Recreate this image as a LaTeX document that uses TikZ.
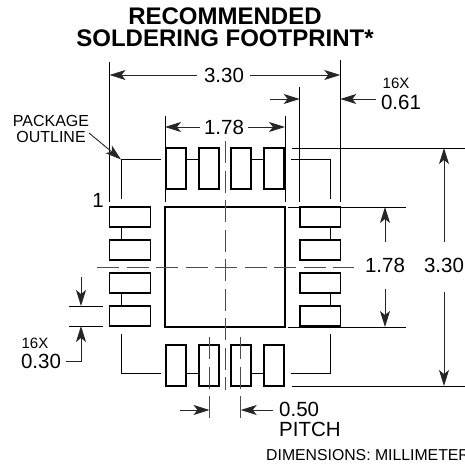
\documentclass[tikz,border=0pt]{standalone}
\usepackage{fontspec}
\setmainfont{Liberation Sans}
\usepackage{tikz}
\usetikzlibrary{arrows.meta,positioning}
\tikzset{
  padbox/.style={draw=black,line width=1.3pt,fill=white},
  thinline/.style={draw=black,line width=0.9pt},
  dimline/.style={draw=black!85,line width=0.9pt,-{Stealth[length=16pt,width=10pt,inset=4pt]}},
  centerline/.style={draw=black!70,line width=1pt,dash pattern=on 22pt off 7.5pt},
  numlabel/.style={inner sep=0pt,font=\fontsize{20.5}{20.5}\selectfont},
  smalllabel/.style={inner sep=0pt,font=\fontsize{15}{15}\selectfont}
}
\begin{document}
\begin{tikzpicture}[x=1pt,y=-1pt]
\useasboundingbox (0,0) rectangle (465,465);

% Title
\node[inner sep=0pt,align=center,font=\fontsize{24}{22}\selectfont\bfseries] (title) at (225,27) {RECOMMENDED\\SOLDERING FOOTPRINT*};

% Package outline with pad links
\draw[thinline] (161,159.5) -- (121,159.5) -- (121,199);
\draw[thinline] (291,159.5) -- (330,159.5) -- (330,199);
\draw[thinline] (161,373.7) -- (121,373.7) -- (121,334);
\draw[thinline] (291,373.7) -- (330,373.7) -- (330,334);
\foreach \x in {186,251} {
  \draw[thinline] (\x,159.5) -- (\x+13,159.5);
  \draw[thinline] (\x,373.7) -- (\x+13,373.7);
}
\foreach \y in {227,293} {
  \draw[thinline] (121,\y) -- (121,\y+13);
  \draw[thinline] (330,\y) -- (330,\y+13);
}

% Pads
\foreach \x in {166,199,231,264} {
  \draw[padbox] (\x,148) rectangle (\x+20,189);
  \draw[padbox] (\x,345) rectangle (\x+20,386);
}
\foreach \y in {207,240,273,306} {
  \draw[padbox] (109.5,\y) rectangle (150.5,\y+20);
  \draw[padbox] (300,\y) rectangle (340.5,\y+20);
}
\draw[padbox] (165,207) rectangle (285,327);

% Center lines
\draw[centerline] (97,267) -- (354,267);
\draw[centerline] (225,141) -- (225,390);
\foreach \x in {209.5,240.7}
  \draw[centerline] (\x,337) -- (\x,421);

% Extension lines
\foreach \x/\ytop in {109.5/62,340.3/60,165/116,285/116,299.7/87}
  \draw[thinline] (\x,\ytop) -- (\x,202);
\foreach \y/\xa/\xb in {148/292/465,386/292/465,207/288/406,327/288/406,306/69/103,326/69/103}
  \draw[thinline] (\xa,\y) -- (\xb,\y);

% Width 3.30
\node[numlabel] (wouter) at (224,75) {3.30};
\draw[dimline] (197,75) -- (109.5,75);
\draw[dimline] (250,75) -- (340.3,75);

% Width 1.78
\node[numlabel] (winner) at (224,127) {1.78};
\draw[dimline] (200,127) -- (165,127);
\draw[dimline] (248,127) -- (285,127);

% Pad length 0.61
\node[smalllabel] (lencount) at (396,83) {16X};
\node[numlabel] (lenval) at (401,102) {0.61};
\draw[dimline] (270,99) -- (299.7,99);
\draw[dimline] (376,99) -- (340.3,99);

% Height 1.78 and 3.30
\node[numlabel] (hinner) at (385,265) {1.78};
\draw[dimline] (385,242) -- (385,207);
\draw[dimline] (385,289) -- (385,327);
\node[numlabel] (houter) at (444,265) {3.30};
\draw[dimline] (444,242) -- (444,148);
\draw[dimline] (444,292) -- (444,386);

% Pad width 0.30
\node[smalllabel] (widcount) at (35,343) {16X};
\node[numlabel] (widval) at (41,361) {0.30};
\draw[dimline] (81,277) -- (81,306);
\draw[dimline] (66,361) -- (81,361) -- (81,326);

% Pitch
\node[numlabel,anchor=west] (pitchval) at (279,409) {0.50};
\node[numlabel,anchor=west] (pitchname) at (279,429) {PITCH};
\draw[dimline] (180,410) -- (209.5,410);
\draw[dimline] (273,410) -- (240.7,410);

% Other labels
\node[numlabel] (pinone) at (98,200) {1};
\node[inner sep=0pt,align=center,font=\fontsize{16}{16}\selectfont] (outline) at (51,128.5) {PACKAGE\\OUTLINE};
\draw[dimline] (89,133) -- (121,159.5);
\node[inner sep=0pt,anchor=west,font=\fontsize{15.8}{16}\selectfont] (units) at (266,455) {DIMENSIONS: MILLIMETERS};
\end{tikzpicture}
\end{document}
